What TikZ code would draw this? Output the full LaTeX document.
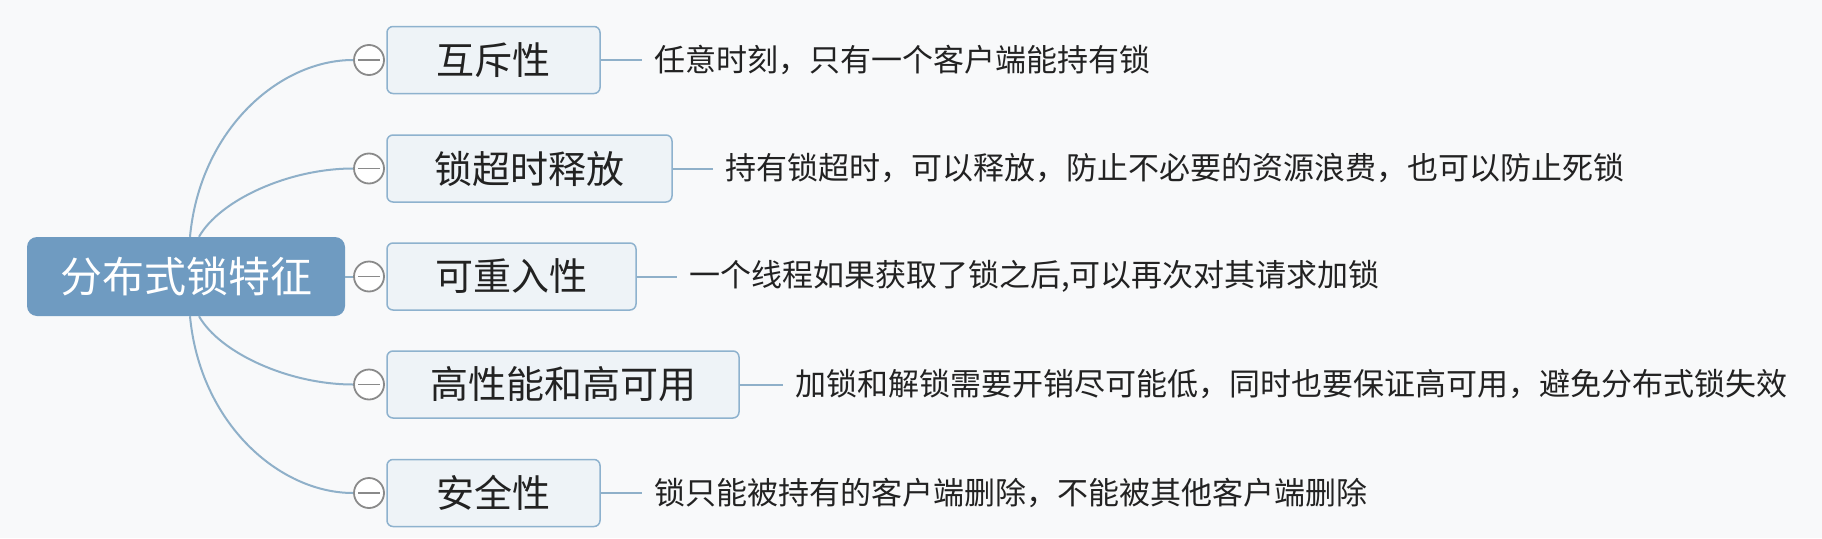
\documentclass[tikz,border=0pt]{standalone}
\usepackage{fontspec}
\setmainfont{Noto Sans CJK SC}
\definecolor{bg}{HTML}{F8F9FA}
\definecolor{rootfill}{HTML}{6F9BC1}
\definecolor{boxfill}{HTML}{EEF3F7}
\definecolor{boxline}{HTML}{8EB2CE}
\definecolor{conn}{HTML}{8FB0C9}
\definecolor{circ}{HTML}{8A8A8A}
\definecolor{txt}{HTML}{222222}
\begin{document}
\begin{tikzpicture}[x=1pt,y=-1pt,
 rootbox/.style={rounded corners=10pt, fill=rootfill, text=white, minimum width=318pt, minimum height=79pt, font=\fontsize{42}{50}\selectfont, inner sep=0pt},
 topic/.style={draw=boxline, line width=1.5pt, rounded corners=6pt, fill=boxfill, text=txt, minimum height=67pt, font=\fontsize{38}{46}\selectfont, inner sep=0pt},
 note/.style={text=txt, font=\fontsize{31}{38}\selectfont, inner xsep=12pt, inner ysep=0pt, anchor=west},
 toggle/.style={circle, draw=circ, line width=1.8pt, fill=white, minimum size=30pt, inner sep=0pt},
 link/.style={draw=conn, line width=2pt},
 minus/.style={draw=circ, line width=1.8pt},
]
\fill[bg] (0,0) rectangle (1822,538);
\useasboundingbox (0,0) rectangle (1822,538);

\node[rootbox] (root) at (186,276.5) {分布式锁特征};

\node[topic, minimum width=213pt] (t1) at (493.5,60) {互斥性};
\node[topic, minimum width=285pt] (t2) at (529.5,168.5) {锁超时释放};
\node[topic, minimum width=249pt] (t3) at (511.5,276.5) {可重入性};
\node[topic, minimum width=352pt] (t4) at (563,384.5) {高性能和高可用};
\node[topic, minimum width=213pt] (t5) at (493.5,493) {安全性};

\node[toggle] (c1) at (369,60) {};
\node[toggle] (c2) at (369,168.5) {};
\node[toggle] (c3) at (369,276.5) {};
\node[toggle] (c4) at (369,384.5) {};
\node[toggle] (c5) at (369,493) {};
\foreach \c in {c1,c2,c3,c4,c5}
  \draw[minus] ([xshift=-11pt]\c.center) -- ([xshift=11pt]\c.center);

\node[note] (n1) at (642,60) {任意时刻，只有一个客户端能持有锁};
\node[note] (n2) at (713,168.5) {持有锁超时，可以释放，防止不必要的资源浪费，也可以防止死锁};
\node[note] (n3) at (677,276.5) {一个线程如果获取了锁之后,可以再次对其请求加锁};
\node[note] (n4) at (783,384.5) {加锁和解锁需要开销尽可能低，同时也要保证高可用，避免分布式锁失效};
\node[note] (n5) at (642,493) {锁只能被持有的客户端删除，不能被其他客户端删除};

\draw[link] ([xshift=4pt]root.north) .. controls +(10,-107) and +(-74,0) .. (c1.west);
\draw[link] ([xshift=13pt]root.north) .. controls +(21,-37) and +(-64,0) .. (c2.west);
\draw[link] (root.east) -- (c3.west);
\draw[link] ([xshift=13pt]root.south) .. controls +(21,37) and +(-64,0) .. (c4.west);
\draw[link] ([xshift=4pt]root.south) .. controls +(10,107) and +(-74,0) .. (c5.west);

\draw[link] (t1.east) -- (n1.west);
\draw[link] (t2.east) -- (n2.west);
\draw[link] (t3.east) -- (n3.west);
\draw[link] (t4.east) -- (n4.west);
\draw[link] (t5.east) -- (n5.west);
\end{tikzpicture}
\end{document}
